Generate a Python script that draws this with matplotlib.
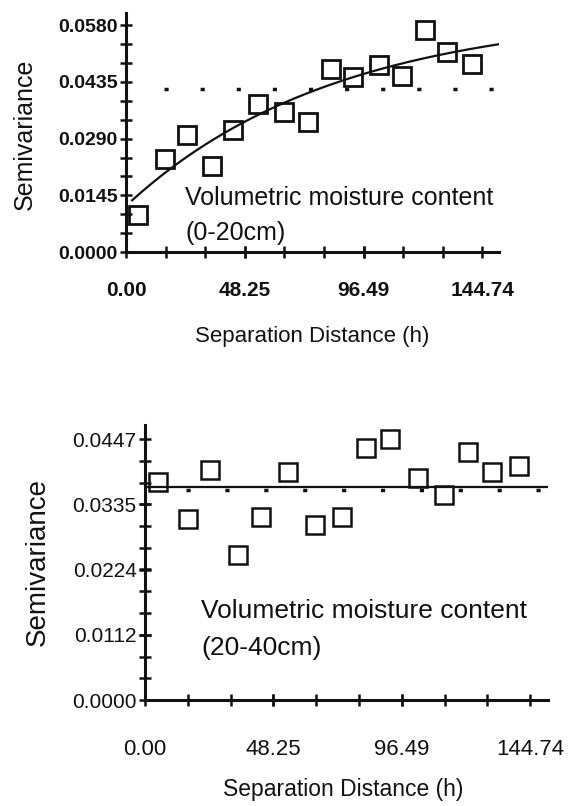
import numpy as np
import matplotlib
matplotlib.use('Agg')
import matplotlib.pyplot as plt
from matplotlib.ticker import FixedLocator, MultipleLocator

plt.rcParams['font.family'] = ['Liberation Sans', 'DejaVu Sans']
plt.rcParams['lines.scale_dashes'] = False

# lag distances shared by both depths
LAGS = [5.0, 16.0, 24.6, 35.1, 43.5, 53.6, 64.0, 73.9, 83.1, 92.1, 102.8, 112.3, 121.5, 130.3, 140.5]

# experimental semivariance
GAMMA_0_20 = [0.0095, 0.0239, 0.0299, 0.0221, 0.0313, 0.0378, 0.0358, 0.0333,
              0.0469, 0.0448, 0.0478, 0.0450, 0.0567, 0.0512, 0.0480]
GAMMA_20_40 = [0.0374, 0.0310, 0.0394, 0.0248, 0.0314, 0.0391, 0.0300, 0.0313,
               0.0431, 0.0447, 0.0380, 0.0351, 0.0425, 0.0390, 0.0400]

# fitted models: exponential (0-20cm), pure nugget (20-40cm)
EXP_NUGGET = 0.0118
EXP_PSILL = 0.0497
EXP_RANGE = 85.0
NUGGET_20_40 = 0.0364

# sample variance (dotted reference line)
VAR_0_20 = 0.0417
VAR_20_40 = 0.0360

X_TICKS = [0.0, 48.25, 96.49, 144.74]
X_LABELS = ['0.00', '48.25', '96.49', '144.74']
X_MAX = 151.5
Y_TICKS_TOP = [0.0, 0.0145, 0.0290, 0.0435, 0.0580]
Y_LABELS_TOP = ['0.0000', '0.0145', '0.0290', '0.0435', '0.0580']
Y_TICKS_BOT = [0.0, 0.0112, 0.0224, 0.0335, 0.0447]
Y_LABELS_BOT = ['0.0000', '0.0112', '0.0224', '0.0335', '0.0447']

INK = '#111111'


def style_axes(ax, yticks, ylabels, ymax, ystep, xpad, xsize, ysize, weight):
    ax.set_xlim(0, X_MAX)
    ax.set_ylim(0, ymax)
    for s in ['top', 'right']:
        ax.spines[s].set_visible(False)
    for s in ['left', 'bottom']:
        ax.spines[s].set_linewidth(2.2)
        ax.spines[s].set_color(INK)
    ax.xaxis.set_major_locator(FixedLocator(X_TICKS))
    ax.set_xticklabels(X_LABELS, fontweight=weight)
    ax.xaxis.set_minor_locator(MultipleLocator(X_TICKS[-1] / 9))
    ax.yaxis.set_major_locator(FixedLocator(yticks))
    ax.set_yticklabels(ylabels, fontweight=weight)
    ax.yaxis.set_minor_locator(MultipleLocator(ystep))
    ax.tick_params(which='both', direction='inout', length=8, width=1.8, color=INK)
    ax.tick_params(axis='x', which='major', pad=xpad, labelsize=xsize, labelcolor=INK)
    ax.tick_params(axis='y', which='major', pad=2, labelsize=ysize, labelcolor=INK)
    ax.patch.set_alpha(0)


fig = plt.figure(figsize=(5.71, 8.06), dpi=100)

# --- 0-20 cm ---
ax1 = fig.add_axes([0.2207, 0.6873, 0.6532, 0.2965])
h = np.linspace(2.5, X_MAX, 200)
ax1.plot(h, EXP_NUGGET + EXP_PSILL * (1 - np.exp(-h / EXP_RANGE)), color=INK, lw=1.6)
ax1.plot([15.5, X_MAX], [VAR_0_20, VAR_0_20], color=INK, lw=2.5, dashes=(3, 23))
ax1.plot(LAGS, GAMMA_0_20, 's', ms=12.5, mfc='none', mec=INK, mew=2.0, clip_on=False)
ax1.text(24.0, 0.0120, 'Volumetric moisture content', fontsize=18, color=INK)
ax1.text(24.0, 0.0031, '(0-20cm)', fontsize=18, color=INK)
style_axes(ax1, Y_TICKS_TOP, Y_LABELS_TOP, 0.0611, 0.0145 / 3, 17, 15, 14, 'bold')
fig.text(0.0438, 0.8337, 'Semivariance', rotation=90, fontsize=18,
         ha='center', va='center', color=INK)
fig.text(0.5464, 0.5831, 'Separation Distance (h)', fontsize=16,
         ha='center', va='center', color=INK)

# --- 20-40 cm ---
ax2 = fig.add_axes([0.2540, 0.1315, 0.7058, 0.3412])
ax2.plot([0, X_MAX], [NUGGET_20_40, NUGGET_20_40], color=INK, lw=1.6)
ax2.plot([15.5, X_MAX], [VAR_20_40, VAR_20_40], color=INK, lw=2.5, dashes=(3, 25))
ax2.plot(LAGS, GAMMA_20_40, 's', ms=13, mfc='none', mec=INK, mew=1.8, clip_on=False)
ax2.text(21.2, 0.01405, 'Volumetric moisture content', fontsize=19, color=INK)
ax2.text(21.2, 0.0077, '(20-40cm)', fontsize=19, color=INK)
style_axes(ax2, Y_TICKS_BOT, Y_LABELS_BOT, 0.0471, 0.0447 / 12, 24, 16, 15, 'normal')
fig.text(0.0665, 0.3027, 'Semivariance', rotation=90, fontsize=20,
         ha='center', va='center', color=INK)
fig.text(0.6007, 0.0199, 'Separation Distance (h)', fontsize=16.5,
         ha='center', va='center', color=INK)

fig.savefig('out.png', dpi=100, facecolor='white')
